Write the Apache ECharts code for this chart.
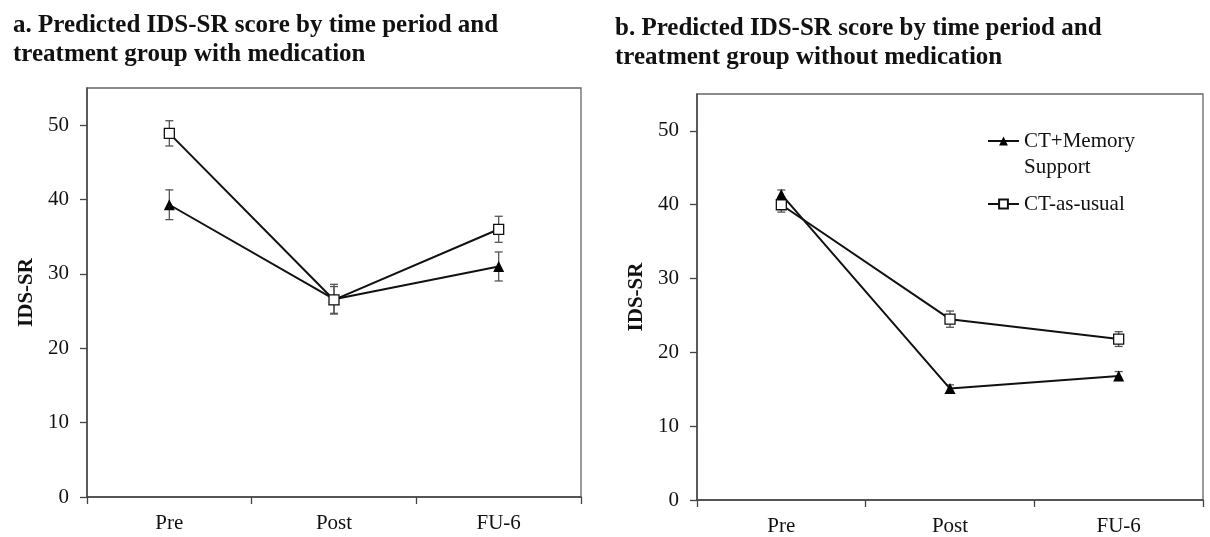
<!DOCTYPE html>
<html>
<head>
<meta charset="utf-8">
<script src="https://cdn.jsdelivr.net/npm/echarts@6/dist/echarts.min.js"></script>
<style>
html,body{margin:0;padding:0;background:#fff;}
#chart{width:1210px;height:537px;}
</style>
</head>
<body>
<div id="chart"></div>
<script>
// ---- data ----
const categories = ['Pre', 'Post', 'FU-6'];
const yTicks = [0, 10, 20, 30, 40, 50];
const seriesNames = ['CT+Memory Support', 'CT-as-usual'];

// Panel a: with medication
const aMemory = [39.3, 26.6, 31.0];
const aMemoryErr = [2.0, 2.0, 1.95];
const aUsual = [48.9, 26.5, 36.0];
const aUsualErr = [1.7, 1.8, 1.75];

// Panel b: without medication
const bMemory = [41.4, 15.1, 16.8];
const bMemoryErr = [0.6, 0.5, 0.6];
const bUsual = [40.0, 24.5, 21.8];
const bUsualErr = [1.0, 1.1, 1.0];

const titleA = 'a. Predicted IDS-SR score by time period and\ntreatment group with medication';
const titleB = 'b. Predicted IDS-SR score by time period and\ntreatment group without medication';

// ---- chart ----
const FONT = "'Liberation Serif', 'Times New Roman', serif";
const chart = echarts.init(document.getElementById('chart'), null, {renderer: 'canvas'});

function errData(vals, errs) {
  return vals.map((v, i) => [i, v - errs[i], v + errs[i]]);
}

function errorSeries(idx, vals, errs) {
  return {
    type: 'custom',
    xAxisIndex: idx, yAxisIndex: idx,
    z: 1,
    silent: true,
    data: errData(vals, errs),
    encode: {x: 0, y: [1, 2]},
    renderItem: function (params, api) {
      const lo = api.coord([api.value(0), api.value(1)]);
      const hi = api.coord([api.value(0), api.value(2)]);
      const w = 4;
      const style = {stroke: '#555', lineWidth: 1.3, fill: null};
      return {
        type: 'group',
        children: [
          {type: 'line', shape: {x1: lo[0], y1: lo[1], x2: hi[0], y2: hi[1]}, style: style},
          {type: 'line', shape: {x1: lo[0] - w, y1: lo[1], x2: lo[0] + w, y2: lo[1]}, style: style},
          {type: 'line', shape: {x1: hi[0] - w, y1: hi[1], x2: hi[0] + w, y2: hi[1]}, style: style}
        ]
      };
    }
  };
}

function lineSeries(idx, name, vals, isMemory) {
  return {
    type: 'line',
    name: name,
    xAxisIndex: idx, yAxisIndex: idx,
    z: 3,
    data: vals,
    symbol: isMemory ? 'triangle' : 'rect',
    symbolSize: isMemory ? 11 : 10,
    lineStyle: {color: '#111', width: 2},
    itemStyle: isMemory ? {color: '#000', borderColor: '#000', borderWidth: 0}
                        : {color: '#fff', borderColor: '#111', borderWidth: 1.3},
    emphasis: {disabled: true},
    animation: false
  };
}

const axisColor = '#444';

function makeX(idx) {
  return {
    type: 'category', gridIndex: idx, data: categories,
    boundaryGap: true,
    axisLine: {show: true, lineStyle: {color: axisColor, width: 1.5}},
    axisTick: {show: true, inside: false, length: 7, lineStyle: {color: axisColor, width: 1.3}},
    axisLabel: {color: '#111', fontSize: 21, fontFamily: FONT, margin: 16},
    splitLine: {show: false}
  };
}
function makeY(idx) {
  return {
    type: 'value', gridIndex: idx, min: 0, max: 55, interval: 10,
    name: 'IDS-SR', nameLocation: 'middle', nameGap: 50,
    nameTextStyle: {color: '#111', fontSize: 21, fontWeight: 'bold', fontFamily: FONT},
    axisLine: {show: true, lineStyle: {color: axisColor, width: 1.5}},
    axisTick: {show: true, inside: false, length: 7, customValues: yTicks, lineStyle: {color: axisColor, width: 1.3}},
    axisLabel: {color: '#111', fontSize: 21, fontFamily: FONT, margin: 18, customValues: yTicks},
    splitLine: {show: false}
  };
}

const option = {
  backgroundColor: '#fff',
  animation: false,
  title: [
    {text: titleA, left: 8, top: 6,
     textStyle: {fontSize: 25, fontWeight: 'bold', fontFamily: FONT, color: '#111', lineHeight: 29}},
    {text: titleB, left: 610, top: 9,
     textStyle: {fontSize: 25, fontWeight: 'bold', fontFamily: FONT, color: '#111', lineHeight: 29}}
  ],
  grid: [
    {left: 87, top: 88, width: 494, height: 409, show: true, borderColor: '#666', borderWidth: 1.3, containLabel: false},
    {left: 697, top: 94, width: 506, height: 408, show: true, borderColor: '#666', borderWidth: 1.3, containLabel: false}
  ],
  legend: {
    show: true,
    orient: 'vertical',
    left: 987, top: 102,
    padding: 0,
    itemGap: 11,
    itemWidth: 31, itemHeight: 11,
    data: seriesNames,
    formatter: function (name) {
      return name === 'CT+Memory Support' ? '\nCT+Memory\nSupport' : name;
    },
    textStyle: {fontSize: 21, fontFamily: FONT, color: '#111', lineHeight: 26},
    selectedMode: false
  },
  xAxis: [makeX(0), makeX(1)],
  yAxis: [makeY(0), makeY(1)],
  series: [
    errorSeries(0, aMemory, aMemoryErr),
    errorSeries(0, aUsual, aUsualErr),
    lineSeries(0, seriesNames[0], aMemory, true),
    lineSeries(0, seriesNames[1], aUsual, false),
    errorSeries(1, bMemory, bMemoryErr),
    errorSeries(1, bUsual, bUsualErr),
    lineSeries(1, seriesNames[1], bUsual, false),
    lineSeries(1, seriesNames[0], bMemory, true)
  ]
};
chart.setOption(option);
</script>
</body>
</html>
